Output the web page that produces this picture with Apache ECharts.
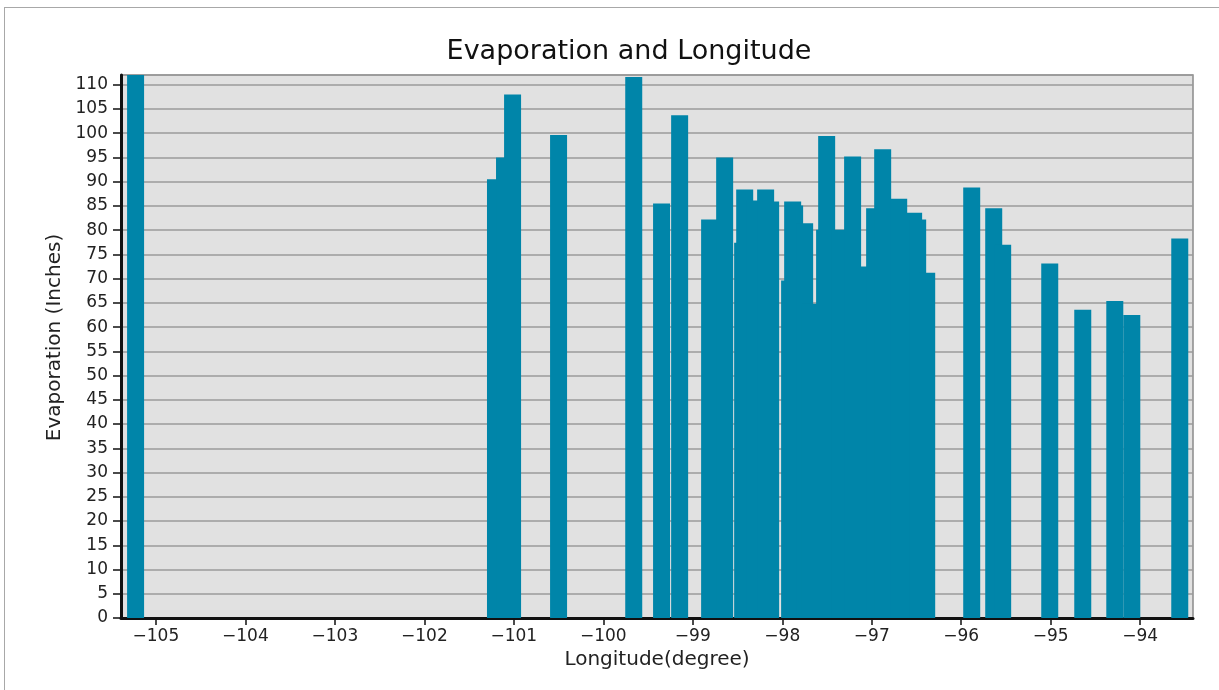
<!DOCTYPE html>
<html><head><meta charset="utf-8">
<script src="https://cdn.jsdelivr.net/npm/echarts@6/dist/echarts.min.js"></script>
<style>
html,body{margin:0;padding:0;background:#fff;}
#frame{position:absolute;left:4px;top:7px;width:1240px;height:700px;border:1px solid #a8a8a8;}
#c{position:absolute;left:0;top:0;width:1219px;height:690px;}
</style></head>
<body><div id="frame"></div><div id="c"></div>
<script>
const longitudes = [-105.227,-101.205,-101.104,-101.014,-100.500,-99.660,-99.349,-99.147,
  -98.812,-98.644,-98.443,-98.420,-98.303,-98.186,-98.130,-97.918,-97.884,-97.862,-97.750,
  -97.689,-97.527,-97.504,-97.353,-97.214,-97.130,-96.968,-96.878,-96.699,-96.532,-96.487,
  -96.386,-95.883,-95.637,-95.537,-95.011,-94.642,-94.284,-94.094,-93.558];
const evaporation = [115,90.5,95.0,108.0,99.6,111.6,85.5,103.7,
  82.2,95.0,77.4,88.4,86.1,88.4,85.9,69.6,85.9,85.1,81.4,
  64.8,80.1,99.4,80.1,95.2,72.5,84.5,96.7,86.5,83.6,82.2,
  71.2,88.8,84.5,77.0,73.1,63.6,65.4,62.5,78.3];
const xTicks = [-105,-104,-103,-102,-101,-100,-99,-98,-97,-96,-95,-94];

const chart = echarts.init(document.getElementById('c'));
const font = 'DejaVu Sans';
chart.setOption({
  animation:false,
  title:{text:'Evaporation and Longitude',left:624,top:33,textAlign:'center',
    textStyle:{fontFamily:font,fontSize:27,fontWeight:'normal',color:'#111'}},
  grid:{left:121,right:26,top:75,bottom:72,show:true,backgroundColor:'#e1e1e1',borderColor:'#8a8a8a',borderWidth:1.5},
  xAxis:{type:'value',min:-105.39,max:-93.41,
    name:'Longitude(degree)',nameLocation:'middle',nameGap:31,
    nameTextStyle:{fontFamily:font,fontSize:20,color:'#222'},
    axisLine:{lineStyle:{color:'#111',width:3}},
    axisTick:{customValues:xTicks,length:7,lineStyle:{color:'#111',width:1.5}},
    axisLabel:{customValues:xTicks,fontFamily:font,fontSize:17,color:'#222',margin:10,
      formatter:v=>'\u2212'+Math.abs(v)},
    splitLine:{show:false}},
  yAxis:{type:'value',min:0,max:112,interval:5,
    name:'Evaporation (Inches)',nameLocation:'middle',nameGap:47,nameRotate:90,
    nameTextStyle:{fontFamily:font,fontSize:20,color:'#222',padding:[0,0,0,18]},
    axisLine:{show:true,lineStyle:{color:'#111',width:3}},
    axisTick:{show:true,length:8,lineStyle:{color:'#111',width:1.5}},
    axisLabel:{fontFamily:font,fontSize:17,color:'#222',margin:13,showMaxLabel:false},
    splitLine:{lineStyle:{color:'#9a9a9a',width:1.5}}},
  series:[{type:'bar',barWidth:17,clip:true,
    itemStyle:{color:'#0085a9'},
    data:longitudes.map((x,i)=>[x,evaporation[i]])}]
});
</script></body></html>
